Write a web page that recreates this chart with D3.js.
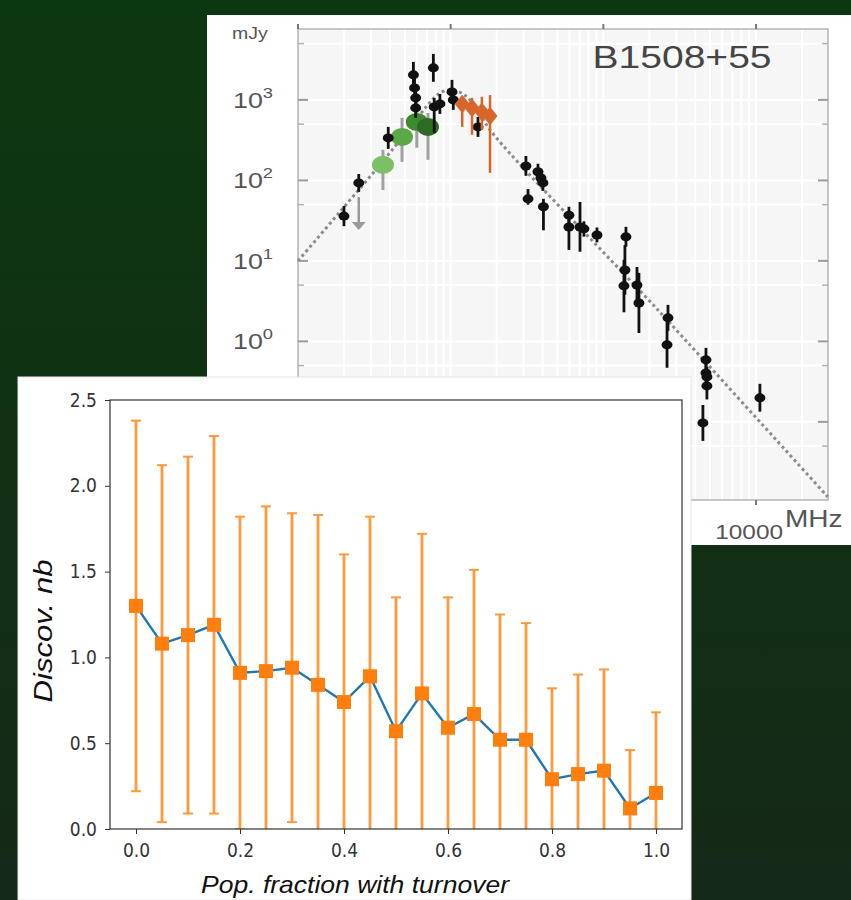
<!DOCTYPE html>
<html>
<head>
<meta charset="utf-8">
<script src="https://cdn.jsdelivr.net/npm/d3@7"></script>
<style>
  body { margin: 0; background: #10301a; }
  svg { display: block; }
</style>
</head>
<body>
<script>
// ---- main chart data: discoveries vs population fraction with turnover
var fraction = [0, 0.05, 0.1, 0.15, 0.2, 0.25, 0.3, 0.35, 0.4, 0.45, 0.5,
                0.55, 0.6, 0.65, 0.7, 0.75, 0.8, 0.85, 0.9, 0.95, 1.0];
var discov = [1.30, 1.08, 1.13, 1.19, 0.91, 0.92, 0.94, 0.84, 0.74, 0.89, 0.57,
              0.79, 0.59, 0.67, 0.52, 0.52, 0.29, 0.32, 0.34, 0.12, 0.21];
var discovErr = [1.08, 1.04, 1.04, 1.10, 0.91, 0.96, 0.90, 0.99, 0.86, 0.93, 0.78,
                 0.93, 0.76, 0.84, 0.73, 0.68, 0.53, 0.58, 0.59, 0.34, 0.47];
var xTicks = [0, 0.2, 0.4, 0.6, 0.8, 1.0];
var yTicks = [0, 0.5, 1.0, 1.5, 2.0, 2.5];

// ---- inset data: spectrum of B1508+55 (MHz, mJy)
var specFreq = [20, 25, 39, 57, 58, 59, 59, 77, 78, 85, 102, 104, 151,
                311, 321, 373, 390, 402, 405, 595, 595, 703, 746, 908,
                1406, 1384, 1364, 1660, 1710, 2650, 2612,
                4700, 4700, 4766, 4766, 4487, 10600];
var specFlux = [36, 93, 337, 2046, 1410, 1060, 796, 2500, 818, 891, 1257, 1000, 462,
                151, 59, 128, 107, 93, 47, 37, 26.4, 26.4, 25, 21,
                19.9, 7.7, 4.9, 5.0, 3.0, 1.96, 0.905,
                0.59, 0.406, 0.362, 0.28, 0.097, 0.199];
var specLo = [27, 72, 246, 1411, 1060, 841, 598, 1678, 390, 670, 891, 752, 347,
              114, 50, 102, 85, 74, 24, 29, 13.7, 13, 20, 17,
              15, 3.8, 2.3, 3.0, 1.27, 1.35, 0.47,
              0.42, 0.31, 0.27, 0.19, 0.058, 0.134];
var specHi = [48, 120, 462, 2967, 1875, 1336, 1059, 3725, 1055, 1185, 1772, 1330, 614,
              201, 78, 161, 135, 117, 59, 47, 33, 54, 31, 26,
              26.5, 15.7, 10.3, 8.4, 7.1, 2.84, 1.75,
              0.83, 0.54, 0.48, 0.42, 0.162, 0.297];

var lbaFreq = [36, 48, 60, 71];
var lbaFlux = [156, 347, 533, 462];
var lbaLo = [76, 170, 254, 180];
var lbaHi = [240, 597, 1002, 688];
var lbaColor = ["#7dbf66", "#5aa847", "#3d8a2e", "#2d6b22"];

var hbaFreq = [119, 138, 160, 181];
var hbaFlux = [891, 796, 710, 632];
var hbaLo = [462, 368, 425, 124];
var hbaHi = [1087, 1059, 1093, 1150];

var limitFreq = [25];
var limitFlux = [62];

var fitFreq = [10, 18.8, 34.4, 54, 70.8, 85, 101.6, 123, 151, 181, 2350, 29500];
var fitFlux = [10, 40.6, 156, 449, 866, 1222, 1331, 1150, 752, 424, 2.3, 0.0117];

var yDecades = [0.1, 1, 10, 100, 1000];
var yHalfDecades = [0.05, 0.5, 5, 50, 500, 5000];
var xDecades = [10, 100, 1000, 10000];

var W = 851, H = 900;
var svg = d3.select("body").append("svg")
            .attr("width", W)
            .attr("height", H);

var defs = svg.append("defs");
var grad = defs.append("linearGradient")
               .attr("id", "bg")
               .attr("x1", 0).attr("y1", 0).attr("x2", 0).attr("y2", 1);
grad.append("stop").attr("offset", "0%").attr("stop-color", "#0c3810");
grad.append("stop").attr("offset", "100%").attr("stop-color", "#152918");
svg.append("rect").attr("width", W).attr("height", H).attr("fill", "url(#bg)");

// ================= inset spectrum =================
var ins = svg.append("g");
ins.append("rect")
   .attr("x", 207).attr("y", 15)
   .attr("width", 644).attr("height", 530)
   .attr("fill", "#ffffff");

var sx = d3.scaleLog().domain([10, 29600]).range([298, 828]);
var sy = d3.scaleLog().domain([0.0107, 7600]).range([500, 29]);

ins.append("rect")
   .attr("x", sx.range()[0]).attr("y", sy.range()[1])
   .attr("width", sx.range()[1] - sx.range()[0])
   .attr("height", sy.range()[0] - sy.range()[1])
   .attr("fill", "#f6f6f6");

var vgrid = [];
xDecades.forEach(function(d) {
  for (var k = 1; k < 10; k++) {
    var v = d * k;
    if (v > 10 && v < 29600) vgrid.push(v);
  }
});
ins.selectAll(".vgrid")
   .data(vgrid)
   .enter()
   .append("line")
   .attr("x1", (d) => sx(d)).attr("x2", (d) => sx(d))
   .attr("y1", sy.range()[1]).attr("y2", sy.range()[0])
   .attr("stroke", "#ffffff")
   .attr("stroke-width", 2);

ins.selectAll(".hgrid")
   .data(yDecades.concat(yHalfDecades))
   .enter()
   .append("line")
   .attr("x1", sx.range()[0]).attr("x2", sx.range()[1])
   .attr("y1", (d) => sy(d)).attr("y2", (d) => sy(d))
   .attr("stroke", "#ffffff")
   .attr("stroke-width", 2);

// frame + ticks
ins.append("rect")
   .attr("x", sx.range()[0]).attr("y", sy.range()[1])
   .attr("width", sx.range()[1] - sx.range()[0])
   .attr("height", sy.range()[0] - sy.range()[1])
   .attr("fill", "none")
   .attr("stroke", "#b4b4b4")
   .attr("stroke-width", 1.5);

[sx.range()[0], sx.range()[1]].forEach(function(xe, i) {
  var dir = i == 0 ? 1 : -1;
  ins.selectAll(null).data(yDecades).enter().append("line")
     .attr("x1", xe).attr("x2", xe + dir * 10)
     .attr("y1", (d) => sy(d)).attr("y2", (d) => sy(d))
     .attr("stroke", "#9a9a9a").attr("stroke-width", 2);
  ins.selectAll(null).data(yHalfDecades).enter().append("line")
     .attr("x1", xe).attr("x2", xe + dir * 6)
     .attr("y1", (d) => sy(d)).attr("y2", (d) => sy(d))
     .attr("stroke", "#b0b0b0").attr("stroke-width", 1.5);
});
ins.selectAll(null).data(xDecades).enter().append("line")
   .attr("x1", (d) => sx(d)).attr("x2", (d) => sx(d))
   .attr("y1", sy.range()[1]).attr("y2", sy.range()[1] - 5)
   .attr("stroke", "#777").attr("stroke-width", 2);
ins.selectAll(null).data(xDecades).enter().append("line")
   .attr("x1", (d) => sx(d)).attr("x2", (d) => sx(d))
   .attr("y1", sy.range()[0]).attr("y2", sy.range()[0] + 5)
   .attr("stroke", "#777").attr("stroke-width", 2);

// labels (inset image is stretched sideways)
var stretch = 1.22;
function stretchedText(x, y, anchor, size) {
  return ins.append("g")
            .attr("transform", "translate(" + x + "," + y + ") scale(" + stretch + ",1)")
            .append("text")
            .attr("text-anchor", anchor)
            .attr("font-family", "Liberation Sans, Arial, sans-serif")
            .attr("font-size", size)
            .attr("fill", "#555");
}
yDecades.forEach(function(d) {
  var t = stretchedText(273, sy(d) + 8, "end", 22);
  t.append("tspan").text("10");
  t.append("tspan").attr("dy", -10).attr("font-size", 15).text(Math.round(Math.log10(d)));
});
stretchedText(250, 39, "middle", 16).text("mJy");
xDecades.forEach(function(d) {
  var t = stretchedText(sx(d) + 27, 539, "end", 20);
  t.text(d);
});
stretchedText(785, 527, "start", 23).text("MHz");
stretchedText(682, 68, "middle", 32).attr("fill", "#444").text("B1508+55");

// fit curve
var fitLine = d3.line()
                .x((d) => sx(d[0]))
                .y((d) => sy(d[1]))
                .curve(d3.curveCatmullRom);
ins.append("path")
   .attr("d", fitLine(d3.zip(fitFreq, fitFlux)))
   .attr("fill", "none")
   .attr("stroke", "#8c8c8c")
   .attr("stroke-width", 3)
   .attr("stroke-dasharray", "3,3");

// upper limit
ins.selectAll(null).data(limitFreq).enter().append("line")
   .attr("x1", (d) => sx(d)).attr("x2", (d) => sx(d))
   .attr("y1", (d, i) => sy(limitFlux[i]))
   .attr("y2", (d, i) => sy(limitFlux[i]) + 26)
   .attr("stroke", "#999").attr("stroke-width", 2.5);
ins.selectAll(null).data(limitFreq).enter().append("path")
   .attr("d", (d, i) => {
     var px = sx(d), py = sy(limitFlux[i]) + 33;
     return "M" + (px - 7) + "," + (py - 8) + "L" + (px + 7) + "," + (py - 8) + "L" + px + "," + py + "Z";
   })
   .attr("fill", "#999");

// LBA points (gray bars + green ellipses)
ins.selectAll(null).data(lbaFreq).enter().append("line")
   .attr("x1", (d) => sx(d)).attr("x2", (d) => sx(d))
   .attr("y1", (d, i) => sy(lbaLo[i])).attr("y2", (d, i) => sy(lbaHi[i]))
   .attr("stroke", "#a0a0a0").attr("stroke-width", 3);
ins.selectAll(null).data(lbaFreq).enter().append("ellipse")
   .attr("cx", (d) => sx(d)).attr("cy", (d, i) => sy(lbaFlux[i]))
   .attr("rx", 11).attr("ry", 9)
   .attr("fill", (d, i) => lbaColor[i]);

// black points
ins.selectAll(null).data(specFreq).enter().append("line")
   .attr("x1", (d) => sx(d)).attr("x2", (d) => sx(d))
   .attr("y1", (d, i) => sy(specLo[i])).attr("y2", (d, i) => sy(specHi[i]))
   .attr("stroke", "#111").attr("stroke-width", 2.8);
ins.selectAll(null).data(specFreq).enter().append("ellipse")
   .attr("cx", (d) => sx(d)).attr("cy", (d, i) => sy(specFlux[i]))
   .attr("rx", 5.5).attr("ry", 4.5)
   .attr("fill", "#111");

// HBA points (orange)
ins.selectAll(null).data(hbaFreq).enter().append("line")
   .attr("x1", (d) => sx(d)).attr("x2", (d) => sx(d))
   .attr("y1", (d, i) => sy(hbaLo[i])).attr("y2", (d, i) => sy(hbaHi[i]))
   .attr("stroke", "#d8662a").attr("stroke-width", 2.5);
ins.selectAll(null).data(hbaFreq).enter().append("path")
   .attr("transform", (d, i) => "translate(" + sx(d) + "," + sy(hbaFlux[i]) + ") scale(1.4,1)")
   .attr("d", d3.symbol().type(d3.symbolDiamond).size(100))
   .attr("fill", "#d8662a");

// ================= main chart =================
var main = svg.append("g");
main.append("rect")
    .attr("x", 18).attr("y", 377)
    .attr("width", 673).attr("height", 523)
    .attr("fill", "#ffffff")
    .attr("stroke", "#e4e4e4");

var x = d3.scaleLinear().domain([-0.05, 1.05]).range([110, 682]);
var y = d3.scaleLinear().domain([0, 2.5]).range([829, 400]);

defs.append("clipPath").attr("id", "plotclip")
    .append("rect")
    .attr("x", 110).attr("y", 400)
    .attr("width", 572).attr("height", 429);

var plot = main.append("g").attr("clip-path", "url(#plotclip)");

var errColor = "#ff993c";
plot.selectAll(".err")
    .data(fraction)
    .enter()
    .append("line")
    .attr("x1", (d) => x(d)).attr("x2", (d) => x(d))
    .attr("y1", (d, i) => y(discov[i] - discovErr[i]))
    .attr("y2", (d, i) => y(discov[i] + discovErr[i]))
    .attr("stroke", errColor)
    .attr("stroke-width", 2.8);
[1, -1].forEach(function(s) {
  plot.selectAll(null)
      .data(fraction)
      .enter()
      .append("line")
      .attr("x1", (d) => x(d) - 5).attr("x2", (d) => x(d) + 5)
      .attr("y1", (d, i) => y(discov[i] + s * discovErr[i]))
      .attr("y2", (d, i) => y(discov[i] + s * discovErr[i]))
      .attr("stroke", errColor)
      .attr("stroke-width", 2);
});

var line = d3.line()
             .x((d) => x(d[0]))
             .y((d) => y(d[1]));
plot.append("path")
    .attr("d", line(d3.zip(fraction, discov)))
    .attr("fill", "none")
    .attr("stroke", "#1f77b4")
    .attr("stroke-width", 2.4);

plot.selectAll(".mk")
    .data(fraction)
    .enter()
    .append("rect")
    .attr("x", (d) => x(d) - 7)
    .attr("y", (d, i) => y(discov[i]) - 7)
    .attr("width", 14).attr("height", 14)
    .attr("fill", "#ff7f0e");

main.append("rect")
    .attr("x", 110).attr("y", 400)
    .attr("width", 572).attr("height", 429)
    .attr("fill", "none")
    .attr("stroke", "#333")
    .attr("stroke-width", 1.2);

var fmt = d3.format(".1f");
var xAxis = main.append("g")
                .attr("transform", "translate(0,829)")
                .call(d3.axisBottom(x).tickValues(xTicks).tickFormat(fmt).tickSize(5).tickPadding(10));
var yAxis = main.append("g")
                .attr("transform", "translate(110,0)")
                .call(d3.axisLeft(y).tickValues(yTicks).tickFormat(fmt).tickSize(5).tickPadding(8));
[xAxis, yAxis].forEach(function(a) {
  a.select(".domain").remove();
  a.selectAll("line").attr("stroke", "#333");
  a.selectAll("text")
   .attr("font-family", "DejaVu Sans Condensed, DejaVu Sans, sans-serif")
   .attr("font-size", 19)
   .attr("fill", "#333");
});

main.append("text")
    .attr("x", 355).attr("y", 893)
    .attr("text-anchor", "middle")
    .attr("font-family", "Liberation Sans, Arial, sans-serif")
    .attr("font-style", "italic")
    .attr("font-size", 24)
    .attr("textLength", 308)
    .attr("lengthAdjust", "spacingAndGlyphs")
    .attr("fill", "#111")
    .text("Pop. fraction with turnover");

main.append("text")
    .attr("transform", "translate(52,631) rotate(-90)")
    .attr("text-anchor", "middle")
    .attr("font-family", "Liberation Sans, Arial, sans-serif")
    .attr("font-style", "italic")
    .attr("font-size", 25)
    .attr("textLength", 143)
    .attr("lengthAdjust", "spacingAndGlyphs")
    .attr("fill", "#111")
    .text("Discov. nb");
</script>
</body>
</html>
